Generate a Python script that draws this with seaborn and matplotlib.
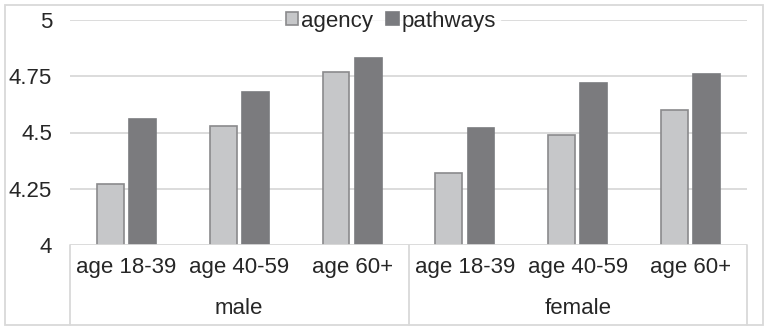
import matplotlib
matplotlib.use("Agg")
import matplotlib.pyplot as plt
from matplotlib.patches import Rectangle, Patch
from matplotlib.lines import Line2D
import seaborn as sns
import pandas as pd

# Chart data
genders = ["male", "female"]
age_groups = ["age 18-39", "age 40-59", "age 60+"]
agency = [4.27, 4.53, 4.77, 4.32, 4.49, 4.60]
pathways = [4.56, 4.68, 4.83, 4.52, 4.72, 4.76]
y_ticks = [4, 4.25, 4.5, 4.75, 5]
y_tick_labels = ["4", "4.25", "4.5", "4.75", "5"]

sns.set_theme(style="white")
plt.rcParams["font.family"] = ["Liberation Sans", "DejaVu Sans"]

text_color = "#262626"
grid_color = "#d9d9d9"
light = "#c6c7c9"
dark = "#7a7b7f"
fs = 16

slots = [f"{g}|{a}" for g in genders for a in age_groups]
df = pd.DataFrame({
    "slot": slots * 2,
    "value": agency + pathways,
    "measure": ["agency"] * len(slots) + ["pathways"] * len(slots),
})

W, H = 766, 328
fig = plt.figure(figsize=(W / 100, H / 100), dpi=100)
left, right, top, bottom = 70, 747, 20, 245
ax = fig.add_axes([left / W, 1 - bottom / H, (right - left) / W, (bottom - top) / H])

sns.barplot(data=df, x="slot", y="value", hue="measure", order=slots,
            palette={"agency": light, "pathways": dark}, width=0.57, gap=0.17,
            ax=ax, legend=False, zorder=3)

for bar, face in zip(ax.patches, [light] * 6 + [dark] * 6):
    edge = "#8a8a8c" if face == light else dark
    bar.set_edgecolor(edge)
    bar.set_linewidth(1.2)

ax.set_ylim(4, 5)
ax.set_xlim(-0.5, len(slots) - 0.5)
ax.set_yticks(y_ticks)
ax.set_yticklabels(y_tick_labels, fontsize=fs, color=text_color)
ax.tick_params(axis="y", length=0, pad=13)
ax.set_xticks([])
ax.set_xlabel("")
ax.set_ylabel("")
for sp in ax.spines.values():
    sp.set_visible(False)
for yt in y_ticks[1:]:
    ax.axhline(yt, color=grid_color, lw=1.3, zorder=1)
ax.axhline(4, color=grid_color, lw=1.3, zorder=4)

# Two-level category axis below the plot
trans = ax.get_xaxis_transform()
def py(px):
    return (bottom - px) / (bottom - top)

for i, lab in enumerate(age_groups * 2):
    ax.text(i, py(268), lab, transform=trans, ha="center", va="center",
            fontsize=fs, color=text_color, clip_on=False)
for j, g in enumerate(genders):
    ax.text(1 + 3 * j, py(309), g, transform=trans, ha="center", va="center",
            fontsize=fs, color=text_color, clip_on=False)
for xv in [-0.5, 2.5, 5.5]:
    ax.add_line(Line2D([xv, xv], [0, py(325)], transform=trans, color=grid_color,
                       lw=1.3, clip_on=False))

# Outer chart border
fig.add_artist(Rectangle((5 / W, 1 - 325 / H), 758 / W, 320 / H, transform=fig.transFigure,
                         fill=False, edgecolor=grid_color, lw=1.3))

handles = [Patch(facecolor=light, edgecolor="#8a8a8c", lw=1.2, label="agency"),
           Patch(facecolor=dark, edgecolor=dark, lw=1.2, label="pathways")]
leg = fig.legend(handles=handles, loc="center", bbox_to_anchor=(391 / W, 1 - 21 / H),
                 ncol=2, frameon=True, fontsize=fs, handlelength=0.55, handleheight=0.55,
                 handletextpad=0.15, columnspacing=0.6, borderpad=0.15, borderaxespad=0)
leg.get_frame().set_facecolor("white")
leg.get_frame().set_edgecolor("white")
leg.get_frame().set_boxstyle("square", pad=0)
for t in leg.get_texts():
    t.set_color(text_color)

fig.savefig("out.png", dpi=100, facecolor="white")
